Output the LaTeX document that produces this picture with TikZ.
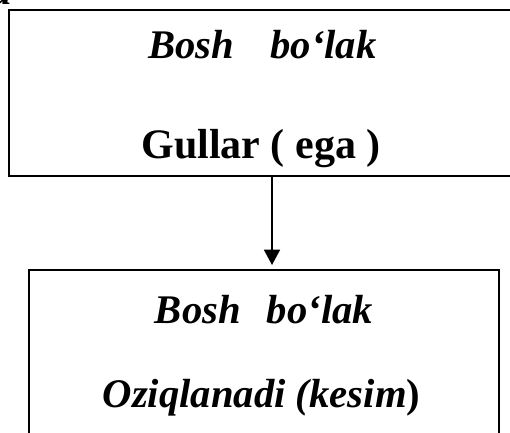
\documentclass[tikz,border=0pt]{standalone}
\usepackage{fontspec}
\setmainfont{Liberation Serif}
\usetikzlibrary{arrows.meta}
\tikzset{
  box/.style={draw, line width=1.6pt, inner sep=0pt},
  lbl/.style={anchor=base, inner sep=0pt, font=\bfseries\itshape\fontsize{30.5}{36}\selectfont},
  lblup/.style={anchor=base, inner sep=0pt, font=\bfseries\fontsize{31.5}{38}\selectfont},
  conn/.style={line width=1.3pt, -{Triangle[width=12pt,length=11.5pt]}, shorten >=3.75pt}
}
\begin{document}
\begin{tikzpicture}[x=0.75pt,y=-0.75pt]
\useasboundingbox (0,0) rectangle (510,432);
% boxes
\draw[box] (9,10) rectangle (516,176);
\draw[box] (29,270) rectangle (499,445);
\coordinate (topbox) at (272,176);
\coordinate (botbox) at (272,270);
% partial letter at top-left
\node[lbl] (corner) at (2,4) {a};
% texts
\node[lbl] (t1) at (262.5,58) {Bosh\hspace{27pt}bo‘lak};
\node[lblup] (t2) at (261,158) {Gullar ( ega )};
\node[lbl] (t3) at (264,323) {Bosh\hspace{19.5pt}bo‘lak};
\node[lbl] (t4) at (261.5,407) {Oziqlanadi (kesim\textup{)}};
% connector
\draw[conn] (topbox) -- (botbox);
\end{tikzpicture}
\end{document}
